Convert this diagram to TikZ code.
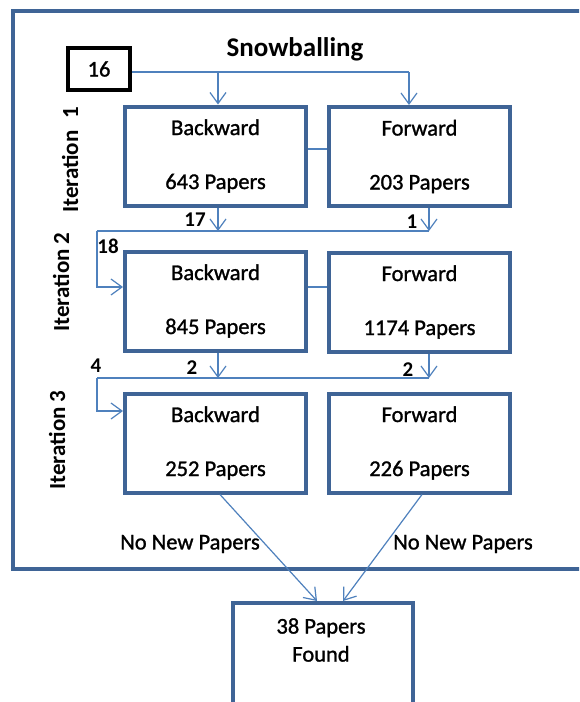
\documentclass[tikz,border=0pt]{standalone}
\usepackage{fontspec}
\setmainfont{Carlito}
\newfontfamily\medfont[FakeBold=1.2]{Carlito}
\usetikzlibrary{arrows.meta}
\definecolor{boxblue}{HTML}{3F6496}
\definecolor{lineblue}{HTML}{4F81BD}
\tikzset{
  frame/.style={draw=boxblue, line width=4pt},
  stepbox/.style={draw=boxblue, line width=4pt, minimum width=181pt, minimum height=99pt,
    inner sep=0pt, align=center, font=\medfont\fontsize{22.5}{54}\selectfont},
  startbox/.style={draw=black, line width=4pt, minimum width=62pt, minimum height=42pt,
    inner sep=0pt, font=\medfont\fontsize{22.5}{27}\selectfont},
  conn/.style={draw=lineblue, line width=1.2pt},
  arr/.style={conn, -{Straight Barb[length=11pt,width=16pt]}},
  num/.style={font=\bfseries\fontsize{21}{25}\selectfont, inner sep=0pt},
  iter/.style={font=\bfseries\fontsize{23}{27}\selectfont, rotate=90, inner sep=0pt},
  plaintext/.style={font=\medfont\fontsize{22.5}{28}\selectfont, inner sep=0pt, align=center},
  titletext/.style={font=\bfseries\fontsize{27}{32}\selectfont, inner sep=0pt},
}
\begin{document}
\begin{tikzpicture}[x=1pt,y=-1pt]
\useasboundingbox (0,0) rectangle (579,702);
\clip (0,0) rectangle (579,702);
\fill[white] (0,0) rectangle (579,702);
% outer frame
\draw[frame] (12.5,10.5) rectangle (620,569);

% title
\node[titletext] (title) at (295,49) {Snowballing};

% start box
\node[startbox] (s16) at (99,69) {16};

% boxes
\node[stepbox] (B1) at (215.5,156) {Backward\\643 Papers};
\node[stepbox] (F1) at (419.5,156.5) {Forward\\203 Papers};
\node[stepbox] (B2) at (215.5,301) {Backward\\845 Papers};
\node[stepbox] (F2) at (419.5,302) {Forward\\1174 Papers};
\node[stepbox] (B3) at (215.5,443) {Backward\\252 Papers};
\node[stepbox] (F3) at (419.5,443) {Forward\\226 Papers};

% final box
\node[frame, minimum width=180pt, minimum height=140pt, anchor=north, inner sep=0pt] (R) at (323,601) {};
\node[plaintext] (Rt) at (321,640) {38 Papers\\Found};

% iteration labels
\node[iter] (it1) at (70,160) {Iteration\hspace{0.5em}1};
\node[iter] (it2) at (61,282) {Iteration 2};
\node[iter] (it3) at (57,440) {Iteration 3};

% coordinates
\coordinate (j1) at (218,72);
\coordinate (j2) at (409,72);
\coordinate (h1) at (97,231);
\coordinate (k1) at (218,231);
\coordinate (k2) at (429,231);
\coordinate (e2) at (97,287);
\coordinate (h2) at (97,378);
\coordinate (m1) at (218,378);
\coordinate (m2) at (429,378);
\coordinate (e3) at (97,411);
\coordinate (b3) at (220,0);
\coordinate (f3) at (422,0);
\coordinate (r1) at (317,0);
\coordinate (r2) at (343,0);
\coordinate (c1) at (0,149);
\coordinate (c2) at (0,287);

% iteration 1 inputs
\draw[conn] (s16.east |- j1) -- (j2);
\draw[arr] (j1) -- (j1 |- B1.north);
\draw[arr] (j2) -- (j2 |- F1.north);
\draw[conn] (B1.east |- c1) -- (F1.west |- c1);

% iteration 1 -> 2
\draw[arr] (k1 |- B1.south) -- (k1);
\draw[arr] (k2 |- F1.south) -- (k2);
\draw[conn] (h1) -- (k2);
\draw[arr] (h1) -- (e2) -- (B2.west |- e2);
\draw[conn] (B2.east |- c2) -- (F2.west |- c2);

% iteration 2 -> 3
\draw[arr] (m1 |- B2.south) -- (m1);
\draw[arr] (m2 |- F2.south) -- (m2);
\draw[conn] (h2) -- (m2);
\draw[arr] (h2) -- (e3) -- (B3.west |- e3);

% to result
\draw[arr] (b3 |- B3.south) -- (r1 |- R.north);
\draw[arr] (f3 |- F3.south) -- (r2 |- R.north);

% numbers
\node[num] (n17) at (195,220) {17};
\node[num] (n1) at (412,222) {1};
\node[num] (n18) at (108,246) {18};
\node[num] (n2a) at (192,368) {2};
\node[num] (n2b) at (408,370) {2};
\node[num] (n4) at (96,366) {4};

% no new papers
\node[plaintext] (nn1) at (190,544) {No New Papers};
\node[plaintext] (nn2) at (463,544) {No New Papers};
\end{tikzpicture}
\end{document}
